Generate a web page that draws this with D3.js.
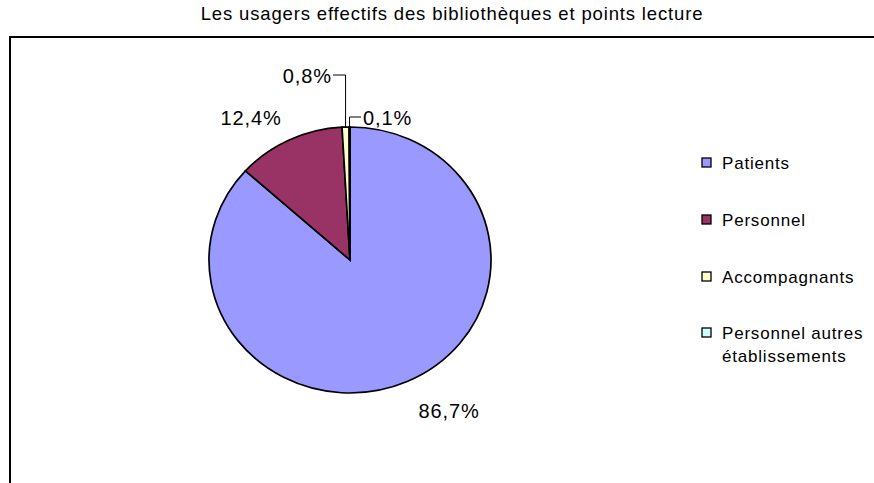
<!DOCTYPE html>
<html><head><meta charset="utf-8">
<script src="https://cdn.jsdelivr.net/npm/d3@7"></script>
<style>body{margin:0;background:#fff}svg{display:block;font-family:"Liberation Sans",Arial,sans-serif}</style>
</head><body>
<svg id="c" width="874" height="483"></svg>
<script>
const title = "Les usagers effectifs des bibliothèques et points lecture";
const categories = ["Patients", "Personnel", "Accompagnants", "Personnel autres établissements"];
const legendLines = [["Patients"], ["Personnel"], ["Accompagnants"], ["Personnel autres", "établissements"]];
const values = [86.7, 12.4, 0.8, 0.1];
const labels = ["86,7%", "12,4%", "0,8%", "0,1%"];
const colors = ["#9999FF", "#993366", "#FFFFCC", "#CCFFFF"];

const svg = d3.select("#c");
svg.append("rect").attr("x", 10).attr("y", 37).attr("width", 1000).attr("height", 600)
  .attr("fill", "#fff").attr("stroke", "#000").attr("stroke-width", 2);

svg.append("text").attr("x", 452).attr("y", 20).attr("text-anchor", "middle")
  .attr("font-size", 18.5).attr("letter-spacing", 0.85).attr("fill", "#000").text(title);

const cx = 350, cy = 260, rx = 141, ry = 133;
const pie = d3.pie().sort(null).value(d => d);
const arcs = pie(values);
const arc = d3.arc().innerRadius(0).outerRadius(rx);
const g = svg.append("g").attr("transform", `translate(${cx},${cy}) scale(1,${ry/rx})`);
g.selectAll("path").data(arcs).enter().append("path")
  .attr("d", arc).attr("fill", (d, i) => colors[i])
  .attr("stroke", "#000").attr("stroke-width", 1.7).attr("vector-effect", "non-scaling-stroke");

const lab = svg.append("g").attr("font-size", 20).attr("letter-spacing", 0.9).attr("fill", "#000");
function edge(d) {
  const a = (d.startAngle + d.endAngle) / 2;
  return [cx + Math.sin(a) * rx, cy - Math.cos(a) * ry];
}
lab.append("text").attr("x", 449).attr("y", 418).attr("text-anchor", "middle").text(labels[0]);
lab.append("text").attr("x", 251).attr("y", 125).attr("text-anchor", "middle").text(labels[1]);
const e2 = edge(arcs[2]);
svg.append("path").attr("d", `M${e2[0]},${e2[1]}V75H333`).attr("fill", "none").attr("stroke", "#000").attr("stroke-width", 1);
lab.append("text").attr("x", 332).attr("y", 83).attr("text-anchor", "end").text(labels[2]);
const e3 = edge(arcs[3]);
svg.append("path").attr("d", `M${e3[0]},${e3[1]}V117H361`).attr("fill", "none").attr("stroke", "#000").attr("stroke-width", 1);
lab.append("text").attr("x", 363).attr("y", 125).attr("text-anchor", "start").text(labels[3]);

const ys = [163, 220, 277, 333];
const lg = svg.append("g");
legendLines.forEach((lines, i) => {
  lg.append("rect").attr("x", 702).attr("y", ys[i] - 5).attr("width", 9).attr("height", 9)
    .attr("fill", colors[i]).attr("stroke", "#000").attr("stroke-width", 1.3);
  lines.forEach((t, j) => {
    lg.append("text").attr("x", 722).attr("y", ys[i] + 6 + j * 23).attr("font-size", 17)
      .attr("letter-spacing", 0.8).attr("fill", "#000").text(t);
  });
});
</script>
</body></html>
